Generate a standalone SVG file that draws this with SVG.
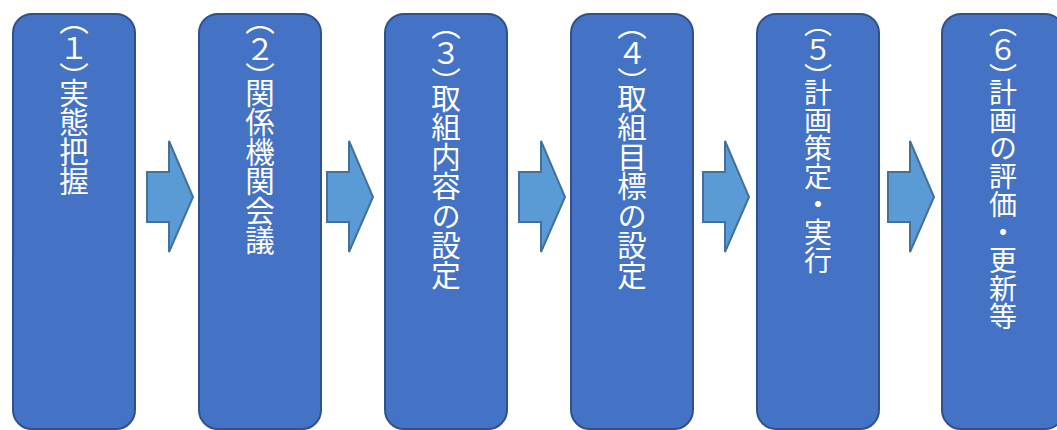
<svg xmlns="http://www.w3.org/2000/svg" width="1057" height="430" viewBox="0 0 1057 430">
<defs>
<style>
.box{fill:#4472C4;stroke:#2F528F;stroke-width:2}
.arr{fill:#5B9BD5;stroke:#41719C;stroke-width:2;stroke-linejoin:miter}
.lbl{fill:#FFFFFF;font-family:"Noto Sans CJK JP","Noto Sans",sans-serif;font-size:29.5px;writing-mode:vertical-rl;text-orientation:mixed}
.sm{font-size:28px}
.p{font-feature-settings:"vpal" 1}
</style>
<path id="arrowShape" d="M0,31 H22 V0 L46,56 L22,111 V81 H0 Z"/>
</defs>
<rect width="1057" height="430" fill="#FFFFFF"/>
<g id="connectors">
<use href="#arrowShape" class="arr" x="147" y="141"/>
<use href="#arrowShape" class="arr" x="327" y="141"/>
<use href="#arrowShape" class="arr" x="519" y="141"/>
<use href="#arrowShape" class="arr" x="703" y="141"/>
<use href="#arrowShape" class="arr" x="888" y="141"/>
</g>
<g id="node1"><rect class="box" x="13" y="14" width="122" height="415" rx="19"/><text class="lbl" x="74" y="19"><tspan class="p">（</tspan>１<tspan class="p">）</tspan>実態把握</text></g>
<g id="node2"><rect class="box" x="199" y="14" width="122" height="415" rx="19"/><text class="lbl" x="260" y="19"><tspan class="p">（</tspan>２<tspan class="p">）</tspan>関係機関会議</text></g>
<g id="node3"><rect class="box" x="385" y="14" width="122" height="415" rx="19"/><text class="lbl" x="446" y="24"><tspan class="p">（</tspan>３<tspan class="p">）</tspan>取組内容の設定</text></g>
<g id="node4"><rect class="box" x="571" y="14" width="122" height="415" rx="19"/><text class="lbl" x="632" y="24"><tspan class="p">（</tspan>４<tspan class="p">）</tspan>取組目標の設定</text></g>
<g id="node5"><rect class="box" x="757" y="14" width="122" height="415" rx="19"/><text class="lbl sm" x="818" y="22"><tspan class="p">（</tspan>５<tspan class="p">）</tspan>計画策定・実行</text></g>
<g id="node6"><rect class="box" x="942" y="14" width="122" height="415" rx="19"/><text class="lbl sm" x="1003" y="22"><tspan class="p">（</tspan>６<tspan class="p">）</tspan>計画の評価・更新等</text></g>
</svg>
